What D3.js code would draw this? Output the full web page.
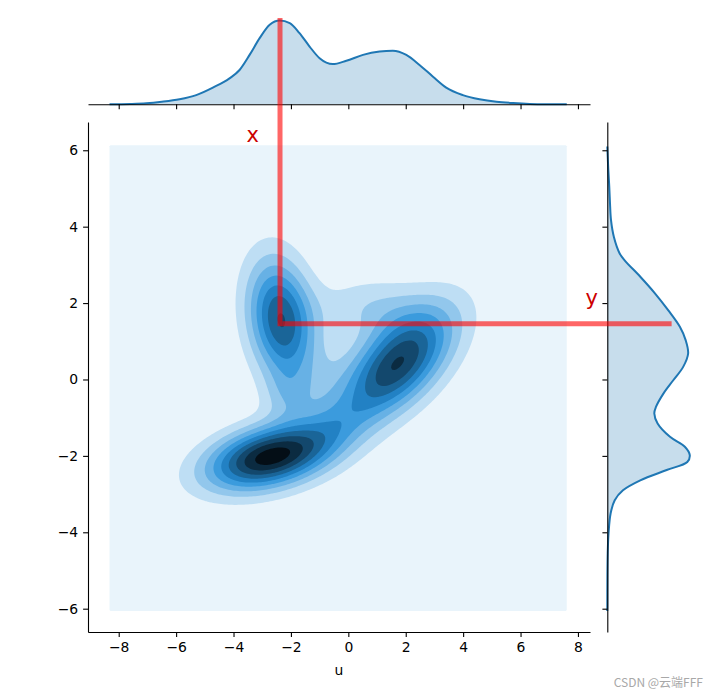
<!DOCTYPE html>
<html><head><meta charset="utf-8">
<script src="https://cdn.jsdelivr.net/npm/d3@7"></script>
<style>body{margin:0;background:#fff} svg{display:block} text{font-family:"DejaVu Sans",sans-serif}</style>
</head><body><svg id="chart" width="717" height="695"></svg>
<script>
// ---------- data ----------
const xTicks = [-8, -6, -4, -2, 0, 2, 4, 6, 8];
const yTicks = [-6, -4, -2, 0, 2, 4, 6];
const xDomain = [-9.07, 8.42];
const yDomain = [-6.61, 6.74];
const gridU = [-8.32, 7.61];     // KDE grid extent (u)
const gridV = [-6.06, 6.13];     // KDE grid extent (v)
// density bumps (in contour-level units)
const compU   = [-2.74, 1.72,  -2.35, -2.1, 0.8,  -0.4, -0.9];
const compV   = [-2.03, 0.42,   1.55, -0.4, 1.9,  -1.2,  0.0];
const compSU  = [ 1.49, 1.333,  0.80,  0.6, 1.3,   1.0,  0.7];
const compSV  = [ 0.59, 1.002,  1.10,  0.5, 0.55,  0.6,  0.9];
const compRho = [ 0.375, 0.573, -0.20, 0.0, 0.0,   0.5,  0.0];
const compAmp = [ 9.5,  8.05,   7.0,   1.5, 1.7,   1.4,  0.8];
const levels = [0, 1, 2, 3, 4, 5, 6, 7, 8, 9, 10];
// marginal density of u (relative to its peak)
const margXu = [-8.32, -7.6, -7.04, -6.5, -5.88, -5.3, -4.72, -4.14, -3.79, -3.44, -3.09, -2.74, -2.39, -2.04, -1.70, -1.35, -1.0, -0.54, -0.07, 0.51, 1.09, 1.55, 2.02, 2.48, 2.95, 3.41, 3.99, 4.57, 5.16, 5.74, 6.32, 7.0, 7.61];
const margXd = [0.0, 0.004, 0.012, 0.03, 0.06, 0.11, 0.2, 0.31, 0.41, 0.59, 0.79, 0.95, 1.0, 0.97, 0.85, 0.69, 0.55, 0.48, 0.52, 0.59, 0.63, 0.64, 0.59, 0.47, 0.33, 0.2, 0.11, 0.06, 0.03, 0.015, 0.005, 0.001, 0.0];
// marginal density of v (relative to its peak)
const margYv = [6.1, 5.5, 5.04, 4.6, 4.17, 3.73, 3.30, 3.12, 2.69, 2.25, 1.81, 1.38, 1.03, 0.68, 0.33, -0.02, -0.37, -0.72, -0.89, -1.15, -1.5, -1.76, -1.98, -2.16, -2.37, -2.64, -2.9, -3.16, -3.51, -4.03, -4.55, -5.2, -6.06];
const margYd = [0.0, 0.012, 0.024, 0.033, 0.045, 0.08, 0.15, 0.21, 0.40, 0.58, 0.74, 0.88, 0.95, 0.98, 0.92, 0.80, 0.68, 0.59, 0.57, 0.61, 0.76, 0.94, 1.0, 0.97, 0.72, 0.40, 0.19, 0.09, 0.04, 0.015, 0.005, 0.001, 0.0];
// red annotation
const markU = -2.38, markV = 1.46, markTopD = 1.03, markRightD = 0.78;
const labelX = {text: "x", u: -3.33, v: 6.21};
const labelY = {text: "y", u: 8.48, v: 1.95};
const xLabel = "u";
const watermark = "CSDN @云端FFF";

// ---------- layout ----------
const svg = d3.select("#chart");
const x = d3.scaleLinear().domain(xDomain).range([88, 590]);
const y = d3.scaleLinear().domain(yDomain).range([632, 122]);
const mTop = d3.scaleLinear().domain([0, 1.05]).range([104.3, 16.4]);
const mRight = d3.scaleLinear().domain([0, 1.05]).range([607.3, 693.9]);
const C0 = "#1f77b4";

// colormap (seaborn jointplot: C0 with lightness 1 -> 0 in 12 steps)
const base = d3.hsl(C0);
const nodes = d3.range(12).map(i => d3.hsl(base.h, base.s, 1 - i / 11).rgb());
const cmap = t => {
  const p = Math.max(0, Math.min(1, t)) * 11;
  const i = Math.min(10, Math.floor(p));
  return d3.interpolateRgb(nodes[i], nodes[i + 1])(p - i);
};

// density grid
const nx = 240, ny = 240;
const values = new Float64Array(nx * ny);
for (let j = 0; j < ny; j++) {
  const v = gridV[1] - (j + 0.5) * (gridV[1] - gridV[0]) / ny;
  for (let i = 0; i < nx; i++) {
    const u = gridU[0] + (i + 0.5) * (gridU[1] - gridU[0]) / nx;
    let s = 0;
    for (let k = 0; k < compAmp.length; k++) {
      const zx = (u - compU[k]) / compSU[k], zy = (v - compV[k]) / compSV[k], r = compRho[k];
      const q = (zx * zx - 2 * r * zx * zy + zy * zy) / (1 - r * r);
      s += compAmp[k] * Math.exp(-0.5 * q);
    }
    values[j * nx + i] = s;
  }
}
const bandLevels = levels.slice(0, -1);
const contours = d3.contours().size([nx, ny]).thresholds(bandLevels)(values);
const cu = d3.scaleLinear().domain([0, nx]).range(gridU);
const cv = d3.scaleLinear().domain([0, ny]).range([gridV[1], gridV[0]]);
const proj = d3.geoTransform({point(px, py) { this.stream.point(x(cu(px)), y(cv(py))); }});
const path = d3.geoPath(proj);
const vmax = levels[levels.length - 1], vmin = levels[0];
svg.append("g").selectAll("path").data(contours).join("path")
  .attr("d", path)
  .attr("fill", (d, i) => cmap(((bandLevels[i] + levels[i + 1]) / 2 - vmin) / (vmax - vmin)))
  .attr("stroke", "none");

// axes
function styleAxis(g) {
  g.selectAll(".domain").attr("stroke", "#000").attr("stroke-width", 1.1);
  g.selectAll(".tick line").attr("stroke", "#000").attr("stroke-width", 1.1);
  g.selectAll(".tick text").attr("fill", "#000").style("font-size", "13.9px").style("font-family", "DejaVu Sans");
}
svg.append("g").attr("transform", "translate(0,632)")
  .call(d3.axisBottom(x).tickValues(xTicks).tickSize(4.9).tickSizeOuter(0).tickPadding(4.9))
  .call(styleAxis);
svg.append("g").attr("transform", "translate(88,0)")
  .call(d3.axisLeft(y).tickValues(yTicks).tickSize(4.9).tickSizeOuter(0).tickPadding(4.9))
  .call(styleAxis);
svg.append("text").attr("x", x((xDomain[0] + xDomain[1]) / 2)).attr("y", 675)
  .attr("text-anchor", "middle").style("font-size", "13.9px").text(xLabel);

// top marginal
const topPts = margXu.map((u, i) => [u, margXd[i]]);
svg.append("path").datum(topPts)
  .attr("d", d3.area().x(d => x(d[0])).y0(mTop(0)).y1(d => mTop(d[1])).curve(d3.curveMonotoneX))
  .attr("fill", C0).attr("fill-opacity", 0.25);
svg.append("path").datum(topPts)
  .attr("d", d3.line().x(d => x(d[0])).y(d => mTop(d[1])).curve(d3.curveMonotoneX))
  .attr("fill", "none").attr("stroke", C0).attr("stroke-width", 2);
svg.append("g").attr("transform", `translate(0,${mTop(0)})`)
  .call(d3.axisBottom(x).tickValues(xTicks).tickSize(4.9).tickSizeOuter(0).tickFormat(""))
  .call(styleAxis);

// right marginal
const rightPts = margYv.map((v, i) => [v, margYd[i]]);
svg.append("path").datum(rightPts)
  .attr("d", d3.area().y(d => y(d[0])).x0(mRight(0)).x1(d => mRight(d[1])).curve(d3.curveCatmullRom.alpha(0.5)))
  .attr("fill", C0).attr("fill-opacity", 0.25);
svg.append("path").datum(rightPts)
  .attr("d", d3.line().y(d => y(d[0])).x(d => mRight(d[1])).curve(d3.curveCatmullRom.alpha(0.5)))
  .attr("fill", "none").attr("stroke", C0).attr("stroke-width", 2);
svg.append("g").attr("transform", `translate(${mRight(0)},0)`)
  .call(d3.axisLeft(y).tickValues(yTicks).tickSize(4.9).tickSizeOuter(0).tickFormat(""))
  .call(styleAxis);

// red annotation
const red = svg.append("g").attr("stroke", "red").attr("stroke-opacity", 0.6).attr("stroke-width", 5);
red.append("line").attr("x1", x(markU)).attr("x2", x(markU)).attr("y1", mTop(markTopD)).attr("y2", y(markV) + 2.5);
red.append("line").attr("x1", x(markU) + 2.5).attr("x2", mRight(markRightD)).attr("y1", y(markV)).attr("y2", y(markV));
[labelX, labelY].forEach(l => {
  svg.append("text").attr("x", x(l.u)).attr("y", y(l.v)).attr("text-anchor", "middle")
    .attr("fill", "#cc0000").style("font-size", "21px").text(l.text);
});

// watermark
svg.append("text").attr("x", 703).attr("y", 687).attr("text-anchor", "end")
  .attr("fill", "#a8a8a8").style("font-size", "12px")
  .style("font-family", "'Noto Sans CJK SC', 'DejaVu Sans', sans-serif").text(watermark);
</script></body></html>
